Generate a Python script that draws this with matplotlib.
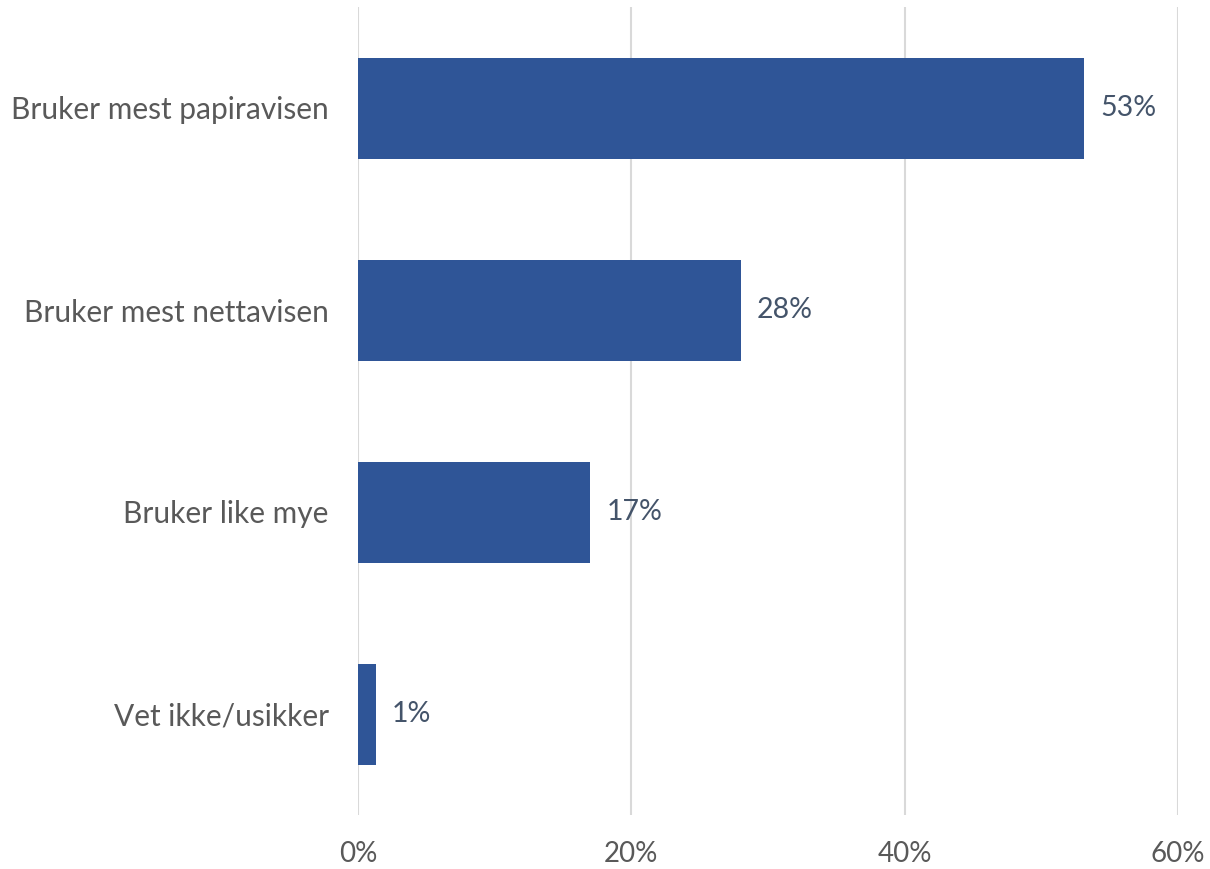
import matplotlib.pyplot as plt
from matplotlib.ticker import FuncFormatter

categories = ['Bruker mest papiravisen', 'Bruker mest nettavisen', 'Bruker like mye', 'Vet ikke/usikker']
values = [53.1, 28.0, 17.0, 1.3]
labels = ['53%', '28%', '17%', '1%']

plt.rcParams['font.family'] = ['Lato', 'DejaVu Sans']

fig = plt.figure(figsize=(12.1, 8.69), dpi=100)
ax = fig.add_axes([358 / 1210, 1 - 815 / 869, 820 / 1210, 808 / 869])

y = list(range(len(categories)))
ax.barh(y, values, height=0.5, color='#2F5597', zorder=3)
for yi, v, lab in zip(y, values, labels):
    ax.text(v + 1.2, yi, lab, va='center', ha='left', fontsize=20.5, color='#44546A')

ax.set_yticks(y)
ax.set_yticklabels(categories, fontsize=21.5, color='#595959')
ax.set_ylim(len(categories) - 0.5, -0.5)
ax.set_xlim(0, 60)
ax.set_xticks([0, 20, 40, 60])
ax.xaxis.set_major_formatter(FuncFormatter(lambda v, p: f'{v:.0f}%'))
ax.tick_params(axis='x', labelsize=20, labelcolor='#595959', length=0, pad=19)
ax.tick_params(axis='y', length=0, pad=21)
ax.grid(axis='x', color='#D9D9D9', linewidth=1.5, zorder=0)
for s in ax.spines.values():
    s.set_visible(False)

fig.savefig('out.png', dpi=100)
